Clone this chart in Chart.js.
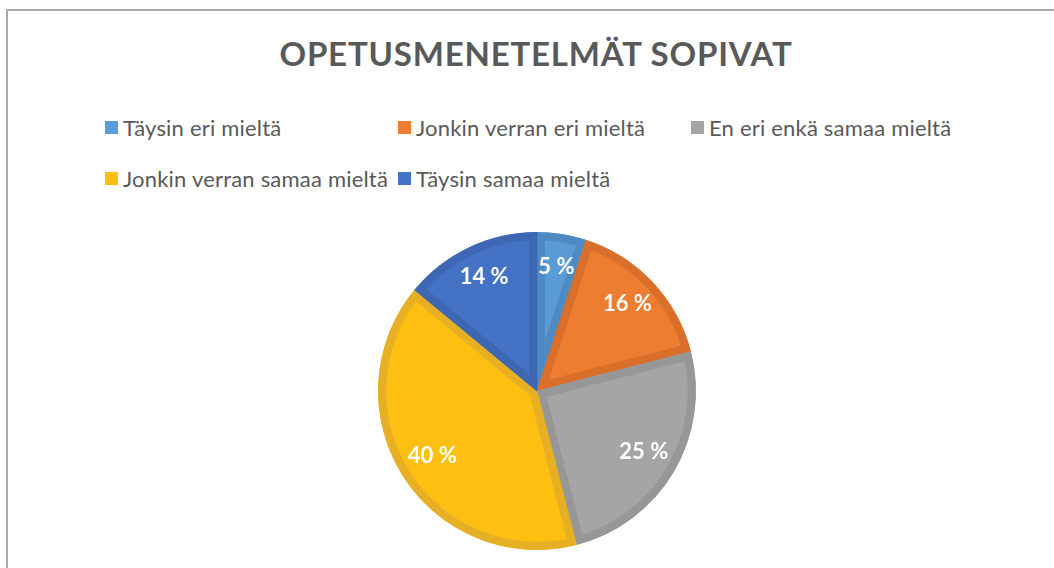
<!DOCTYPE html>
<html lang="fi">
<head>
    <meta charset="UTF-8">
    <title>Opetusmenetelmät sopivat</title>
    <script src="https://cdn.jsdelivr.net/npm/chart.js"></script>
    <style>
        html, body { margin: 0; padding: 0; background: #fff; }
        body { width: 1054px; height: 568px; position: relative; overflow: hidden; font-family: Lato, "Open Sans", sans-serif; }
        #frame { position: absolute; left: 6px; top: 9px; width: 1100px; height: 600px; border-left: 2px solid #a9a9a9; border-top: 2px solid #a9a9a9; }
        #title { position: absolute; left: 0; top: 33px; width: 1072px; text-align: center; font-size: 33px; font-weight: bold; color: #595959; letter-spacing: 0.8px; }
        #legend { position: absolute; left: 105px; top: 114px; width: 900px; }
        .item { position: absolute; display: flex; align-items: center; font-size: 22px; letter-spacing: 0.2px; color: #595959; white-space: nowrap; }
        .item span.box { width: 13px; height: 13px; margin-right: 5px; display: inline-block; }
        #myChart { position: absolute; left: 0; top: 0; }
    </style>
</head>
<body>
    <div id="frame"></div>
    <div id="title">OPETUSMENETELMÄT SOPIVAT</div>
    <div id="legend"></div>
    <canvas id="myChart" width="1054" height="568"></canvas>
    <script>
        // data
        const categories = ['Täysin eri mieltä', 'Jonkin verran eri mieltä', 'En eri enkä samaa mieltä', 'Jonkin verran samaa mieltä', 'Täysin samaa mieltä'];
        const values = [5, 16, 25, 40, 14];

        const fillColors = ['#5b9bd5', '#ed7d31', '#a5a5a5', '#fdc012', '#4472c4'];
        const edgeColors = ['#4f8ac2', '#d96f2a', '#979797', '#e7b024', '#3d66b3'];

        // legend, 3 columns like the office chart
        const legend = document.getElementById('legend');
        categories.forEach((name, i) => {
            const el = document.createElement('div');
            el.className = 'item';
            el.style.left = (i % 3) * 293 + 'px';
            el.style.top = Math.floor(i / 3) * 51 + 'px';
            el.innerHTML = '<span class="box" style="background:' + fillColors[i] + '"></span>' + name;
            legend.appendChild(el);
        });

        // percent labels inside the slices
        const sliceLabels = {
            id: 'sliceLabels',
            afterDatasetsDraw(chart) {
                const ctx = chart.ctx;
                const meta = chart.getDatasetMeta(0);
                ctx.save();
                ctx.fillStyle = '#ffffff';
                ctx.font = 'bold 22px Lato, "Open Sans", sans-serif';
                ctx.textAlign = 'center';
                ctx.textBaseline = 'middle';
                meta.data.forEach((arc, i) => {
                    const p = arc.getProps(['x', 'y', 'startAngle', 'endAngle', 'outerRadius'], true);
                    const mid = (p.startAngle + p.endAngle) / 2;
                    const r = p.outerRadius * 0.78;
                    ctx.fillText(values[i] + ' %', p.x + Math.cos(mid) * r, p.y + Math.sin(mid) * r - 2);
                });
                ctx.restore();
            }
        };

        const ctx = document.getElementById('myChart').getContext('2d');
        new Chart(ctx, {
            type: 'pie',
            data: {
                labels: categories,
                datasets: [{
                    data: values,
                    backgroundColor: fillColors,
                    borderColor: edgeColors,
                    borderWidth: 8,
                    borderAlign: 'inner'
                }]
            },
            options: {
                responsive: false,
                animation: false,
                layout: { padding: { top: 232, bottom: 18, left: 20, right: 0 } },
                plugins: {
                    legend: { display: false },
                    title: { display: false },
                    tooltip: { enabled: false }
                }
            },
            plugins: [sliceLabels]
        });
    </script>
</body>
</html>
